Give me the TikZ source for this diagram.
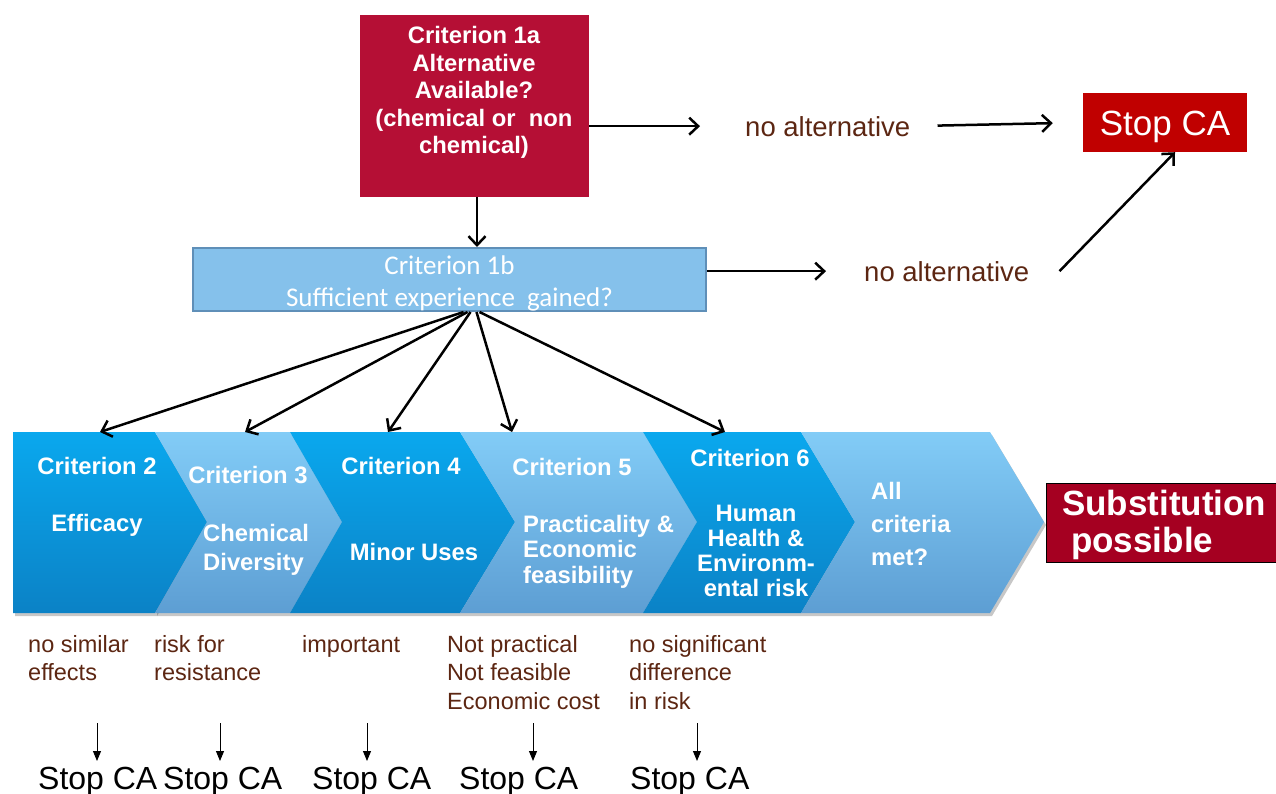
\documentclass[tikz,border=0pt]{standalone}
\usepackage{fontspec}
\setmainfont{Liberation Sans}
\newfontfamily\calib{Carlito}
\usetikzlibrary{arrows.meta,calc}
\definecolor{crim}{HTML}{B50F35}
\definecolor{stopred}{HTML}{C00000}
\definecolor{subred}{HTML}{A50021}
\definecolor{lbfill}{HTML}{85C1EB}
\definecolor{lbborder}{HTML}{5F8FB8}
\definecolor{txtbrown}{HTML}{5C2612}
\definecolor{dkT}{HTML}{0AA8EE}
\definecolor{dkB}{HTML}{0B82C6}
\definecolor{ltT}{HTML}{82CCF7}
\definecolor{ltB}{HTML}{5D9ED3}
\tikzset{
  dkchev/.style={top color=dkT,bottom color=dkB},
  ltchev/.style={top color=ltT,bottom color=ltB},
  chevshadow/.style={fill=black,opacity=0.22},
  arr/.style={line width=2.5pt,-{Straight Barb[length=9pt,width=17pt]}},
  thinarr/.style={line width=1pt,-{Triangle[length=10pt,width=8pt]}},
  wtext/.style={text=white,inner sep=0pt,align=center,font=\fontsize{23.8}{#1}\selectfont\bfseries},
  wtext/.default=27.5,
  brtext/.style={text=txtbrown,inner sep=0pt,align=left,anchor=north west,font=\fontsize{23.5}{28.7}\selectfont},
  stoptext/.style={text=black,inner sep=0pt,anchor=base west,font=\fontsize{32}{36}\selectfont},
  alttext/.style={text=txtbrown,inner sep=0pt,anchor=base west,font=\fontsize{27.5}{30}\selectfont},
}
\begin{document}
\begin{tikzpicture}[x=1pt,y=-1pt]
\useasboundingbox (0,0) rectangle (1276,793);

% Criterion 1a
\node[fill=crim,draw=none,minimum width=229pt,minimum height=182pt,inner sep=0pt] (a1) at (474.5,105.5) {};
\node[wtext=27.5,anchor=north] (a1t) at (474,26.5) {Criterion 1a\\Alternative\\Available?\\(chemical or\ \ non\\chemical)};

% Stop CA top
\node[fill=stopred,minimum width=164pt,minimum height=59pt,inner sep=0pt,text=white,
      text height=25pt,text depth=0pt,font=\fontsize{35}{40}\selectfont] (stop1) at (1165,122.5) {Stop CA};

% no alternative labels
\node[alttext] (na1) at (745,136) {no alternative};
\node[alttext] (na2) at (864,281) {no alternative};

% Criterion 1b
\node[fill=lbfill,draw=lbborder,line width=2pt,minimum width=513pt,minimum height=63pt,inner sep=0pt] (b1) at (449.5,279.5) {};
\node[text=white,inner sep=0pt,align=center,anchor=north,font=\calib\fontsize{27}{32}\selectfont] (b1t) at (449.5,255.5) {Criterion 1b\\Sufficient experience\ \ gained?};

% arrows top
\draw[arr,shorten >=45pt] (a1.east |- na1.west) -- (na1.west);
\draw[arr,shorten <=27pt,shorten >=30pt] (na1.east) -- (stop1.west);
\draw[arr] ([xshift=2.5pt]a1.south) -- ([xshift=2.5pt]a1.south |- b1.north);
\draw[arr,shorten >=38pt] (b1.east |- na2.west) -- (na2.west);
\draw[arr] ([xshift=30pt]na2.east) -- ([xshift=10pt]stop1.south);

% chevron shadows
\fill[chevshadow] (15,435) -- (157,435) -- (209,525) -- (157,616) -- (15,616) -- cycle;
\fill[chevshadow] (157,435) -- (992,435) -- (1046,525) -- (992,616) -- (157,616) -- cycle;

% chevrons
\shade[dkchev] (13,432) -- (155,432) -- (207,522) -- (155,613) -- (13,613) -- cycle;
\shade[ltchev] (155,432) -- (290,432) -- (342,522) -- (290,613) -- (155,613) -- (207,522) -- cycle;
\shade[dkchev] (290,432) -- (460,432) -- (515,522) -- (460,613) -- (290,613) -- (342,522) -- cycle;
\shade[ltchev] (460,432) -- (643,432) -- (697,522) -- (643,613) -- (460,613) -- (515,522) -- cycle;
\shade[dkchev] (643,432) -- (801,432) -- (855,522) -- (801,613) -- (643,613) -- (697,522) -- cycle;
\shade[ltchev] (801,432) -- (990,432) -- (1044,522) -- (990,613) -- (801,613) -- (855,522) -- cycle;

% chevron tops for the fan
\coordinate (c2) at (100,432);
\coordinate (c3) at (245,432);
\coordinate (c4) at (388,432);
\coordinate (c5) at (512,432);
\coordinate (c6) at (725,432);
\draw[arr] ([xshift=14pt]b1.south) -- (c2);
\draw[arr] ([xshift=18pt]b1.south) -- (c3);
\draw[arr] ([xshift=21pt]b1.south) -- (c4);
\draw[arr] ([xshift=27pt]b1.south) -- (c5);
\draw[arr] ([xshift=30pt]b1.south) -- (c6);

% chevron texts
\node[wtext,anchor=base] (t2) at (97,474.5) {Criterion 2};
\node[wtext,anchor=base] (e2) at (97,531.5) {Efficacy};
\node[wtext,anchor=base] (t3) at (248,483) {Criterion 3};
\node[wtext=29.3,anchor=north west,align=left] (e3) at (203,524) {Chemical\\Diversity};
\node[wtext,anchor=base] (t4) at (401,474) {Criterion 4};
\node[wtext,anchor=base] (e4) at (414,560) {Minor Uses};
\node[wtext,anchor=base] (t5) at (572,475.5) {Criterion 5};
\node[wtext=25.8,anchor=north west,align=left] (e5) at (523,514.7) {Practicality \&\\Economic\\feasibility};
\node[wtext,anchor=base] (t6) at (750,466) {Criterion 6};
\node[wtext=25,anchor=north] (e6) at (756,505) {Human\\Health \&\\Environm-\\ental risk};
\node[wtext=33,anchor=north west,align=left] (e7) at (871,482) {All\\criteria\\met?};

% Substitution possible
\node[fill=subred,draw=black,line width=1pt,minimum width=240pt,minimum height=79pt,inner sep=0pt,anchor=north west] (sub) at (1046,483) {};
\node[text=white,inner sep=0pt,anchor=north west,align=left,font=\fontsize{35}{37}\selectfont\bfseries] (subt) at (1062,490) {Substitution\\\hspace{9pt}possible};

% bottom reasons
\node[brtext] (r2) at (28,635) {no similar\\effects};
\node[brtext] (r3) at (154,635) {risk for\\resistance};
\node[brtext] (r4) at (302,635) {important};
\node[brtext] (r5) at (447,635) {Not practical\\Not feasible\\Economic cost};
\node[brtext] (r6) at (629,635) {no significant\\difference\\in risk};

% bottom Stop CA
\node[stoptext] (s2) at (38,789) {Stop CA};
\node[stoptext] (s3) at (163,789) {Stop CA};
\node[stoptext] (s4) at (312,789) {Stop CA};
\node[stoptext] (s5) at (459,789) {Stop CA};
\node[stoptext] (s6) at (630,789) {Stop CA};

\foreach \i/\xx in {2/97,3/220,4/367,5/533,6/697}{
  \coordinate (f\i) at (\xx,723);
  \coordinate (g\i) at (\xx,761);
  \draw[thinarr] (f\i) -- (g\i);
}
\end{tikzpicture}
\end{document}
